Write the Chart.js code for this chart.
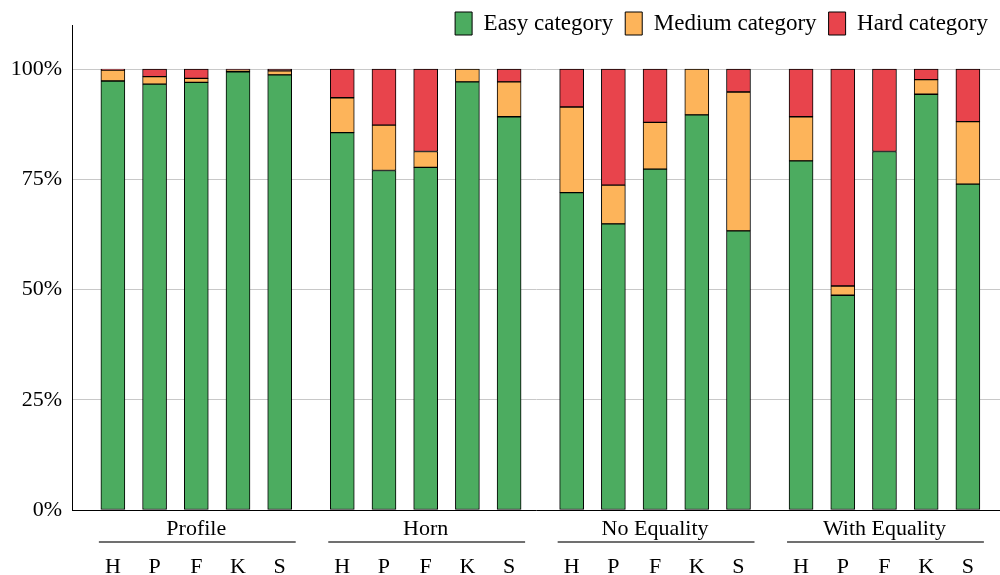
<!DOCTYPE html>
<html>
<head>
<meta charset="utf-8">
<script src="https://cdn.jsdelivr.net/npm/chart.js@4"></script>
<style>
  html, body { margin: 0; padding: 0; background: #fff; }
  #wrap { width: 1000px; height: 575px; position: relative; }
</style>
</head>
<body>
<div id="wrap"><canvas id="myChart"></canvas></div>
<script>
const solvers = ['H', 'P', 'F', 'K', 'S'];
const groups = ['Profile', 'Horn', 'No Equality', 'With Equality'];

// percentages per bar, group by group (Profile, Horn, No Equality, With Equality)
const easy = [97.3, 96.6, 97.0, 99.4, 98.7,  85.6, 77.0, 77.7, 97.1, 89.2,  72.0, 64.9, 77.3, 89.6, 63.3,  79.2, 48.7, 81.3, 94.3, 73.9];
const medium = [2.5, 1.7, 0.9, 0.5, 0.9,  7.9, 10.3, 3.6, 2.9, 7.9,  19.4, 8.8, 10.6, 10.4, 31.5,  10.0, 2.1, 0, 3.3, 14.2];
const hard = [0.2, 1.7, 2.1, 0.1, 0.4,  6.5, 12.7, 18.7, 0, 2.9,  8.6, 26.3, 12.1, 0, 5.2,  10.8, 49.2, 18.7, 2.4, 11.9];
const yTicks = [0, 25, 50, 75, 100];

const FONT = "'Liberation Serif', 'Times New Roman', serif";
const groupGap = 5.5;

// x position of each bar: 5 bars per group, half a slot extra between groups
const positions = [];
groups.forEach((g, gi) => solvers.forEach((s, si) => positions.push(gi * groupGap + si)));

function toPoints(values) {
  return values.map((v, i) => ({ x: positions[i], y: v }));
}

const barStyle = {
  borderColor: '#000',
  borderWidth: 1,
  borderSkipped: false,
  barThickness: 24,
};

const groupLabels = {
  id: 'groupLabels',
  afterDraw(chart) {
    const { ctx, scales: { x } } = chart;
    ctx.save();
    ctx.font = '22px ' + FONT;
    ctx.fillStyle = '#000';
    ctx.textAlign = 'center';
    ctx.textBaseline = 'middle';
    groups.forEach((g, gi) => {
      const first = x.getPixelForValue(gi * groupGap);
      const last = x.getPixelForValue(gi * groupGap + solvers.length - 1);
      ctx.fillText(g, (first + last) / 2, 529);
      ctx.strokeStyle = '#707070';
      ctx.lineWidth = 2;
      ctx.beginPath();
      ctx.moveTo(first - 14, 542);
      ctx.lineTo(last + 16, 542);
      ctx.stroke();
    });
    ctx.restore();
  }
};

// legend sits above the plot but only reserves 25px, so it overlaps the top of the y axis
const legendFit = {
  id: 'legendFit',
  beforeInit(chart) {
    const legend = chart.legend;
    const fit = legend.fit;
    legend.fit = function() {
      fit.call(this);
      this.height = 25;
    };
    const draw = legend.draw;
    legend.draw = function() {
      const bottom = this.bottom;
      this.bottom = bottom + 20;
      draw.call(this);
      this.bottom = bottom;
    };
  }
};

new Chart(document.getElementById('myChart'), {
  type: 'bar',
  data: {
    datasets: [
      { label: 'Easy category', data: toPoints(easy), backgroundColor: '#4CAC60', ...barStyle },
      { label: 'Medium category', data: toPoints(medium), backgroundColor: '#FDB45A', ...barStyle },
      { label: 'Hard category', data: toPoints(hard), backgroundColor: '#E8444C', ...barStyle },
    ]
  },
  options: {
    responsive: true,
    maintainAspectRatio: false,
    animation: false,
    layout: { padding: 0 },
    scales: {
      x: {
        type: 'linear',
        stacked: true,
        offset: false,
        min: -0.98,
        max: 21.27,
        afterBuildTicks(axis) {
          axis.ticks = positions.map(p => ({ value: p }));
        },
        afterFit(axis) {
          axis.height = 65;
          axis.paddingLeft = 0;
          axis.paddingRight = 0;
        },
        ticks: {
          autoSkip: false,
          maxRotation: 0,
          padding: 44,
          color: '#000',
          font: { family: FONT, size: 22 },
          callback: (value, index) => solvers[index % solvers.length],
        },
        grid: { display: false, drawTicks: false },
        border: { display: true, color: '#000', width: 1 },
      },
      y: {
        stacked: true,
        min: 0,
        max: 110,
        afterBuildTicks(axis) {
          axis.ticks = yTicks.map(v => ({ value: v }));
        },
        afterFit(axis) { axis.width = 72; },
        ticks: {
          padding: 10,
          color: '#000',
          font: { family: FONT, size: 22 },
          callback: v => v + '%',
        },
        grid: { color: '#c8c8c8', lineWidth: 1, drawTicks: false },
        border: { display: true, color: '#000', width: 1 },
      }
    },
    plugins: {
      tooltip: { enabled: false },
      legend: {
        display: true,
        position: 'top',
        align: 'end',
        labels: {
          color: '#000',
          boxWidth: 17,
          boxHeight: 23,
          padding: 12,
          font: { family: FONT, size: 23 },
        }
      }
    }
  },
  plugins: [groupLabels, legendFit]
});
</script>
</body>
</html>
